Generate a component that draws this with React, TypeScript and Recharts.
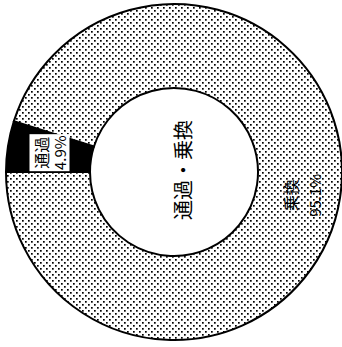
import React from 'react';
import { PieChart, Pie, Cell } from 'recharts';

const categories = ['通過', '乗換'];
const shares = [4.9, 95.1];
const centerTitle = '通過・乗換';
const fills = ['#000000', 'url(#dots)'];

const data = categories.map((name, i) => ({ name, value: shares[i] }));

const RAD = Math.PI / 180;
const FONT = '"Noto Sans CJK JP", "Noto Sans", sans-serif';

const renderLabel = (props: any) => {
  const { cx, cy, midAngle, innerRadius, outerRadius, index } = props;
  const r = (innerRadius + outerRadius) / 2;
  let x = cx + r * Math.cos(-midAngle * RAD);
  let y = cy + r * Math.sin(-midAngle * RAD);
  const name = categories[index];
  const pct = shares[index].toFixed(1) + '%';
  if (index === 0) {
    const tx = cx + 8;
    const ty = cy - 2;
    return (
      <g>
        <g transform={`rotate(-90, ${x}, ${y})`}>
          <rect x={x - 18.5} y={y - 20} width={37} height={40} fill="#fff" />
          <text x={x} y={y - 8} textAnchor="middle" dominantBaseline="central" fontSize={16} fontFamily={FONT} fill="#000">{name}</text>
          <text x={x} y={y + 10} textAnchor="middle" dominantBaseline="central" fontSize={15} fontFamily={FONT} fill="#000">{pct}</text>
        </g>
        <text x={tx} y={ty} transform={`rotate(-90, ${tx}, ${ty})`} textAnchor="middle" dominantBaseline="central" fontSize={20} fontFamily={FONT} fill="#000">
          {centerTitle}
        </text>
      </g>
    );
  }
  x = x + 3;
  y = y + 4;
  return (
    <g transform={`rotate(-90, ${x}, ${y})`}>
      <text x={x} y={y - 12} textAnchor="middle" dominantBaseline="central" fontSize={16} fontFamily={FONT} fill="#000">{name}</text>
      <text x={x} y={y + 13} textAnchor="middle" dominantBaseline="central" fontSize={15} fontFamily={FONT} fill="#000">{pct}</text>
    </g>
  );
};

export default function App() {
  return (
    <div style={{ position: 'absolute', left: 0, top: 0, width: 342, height: 347, background: '#fff' }}>
      <PieChart width={342} height={347} margin={{ top: 0, right: 0, bottom: 0, left: 0 }}>
        <defs>
          <pattern id="dots" width="6" height="6" patternUnits="userSpaceOnUse">
            <rect width="6" height="6" fill="#fff" />
            <rect x="1" y="1" width="1.7" height="1.7" fill="#000" />
            <rect x="4" y="4" width="1.7" height="1.7" fill="#000" />
          </pattern>
        </defs>
        <Pie
          data={data}
          dataKey="value"
          nameKey="name"
          cx={174}
          cy={172}
          innerRadius={84}
          outerRadius={168}
          startAngle={180}
          endAngle={-180}
          stroke="#000"
          strokeWidth={2}
          label={renderLabel}
          labelLine={false}
          isAnimationActive={false}
        >
          {data.map((d, i) => (
            <Cell key={d.name} fill={fills[i]} />
          ))}
        </Pie>
      </PieChart>
    </div>
  );
}
